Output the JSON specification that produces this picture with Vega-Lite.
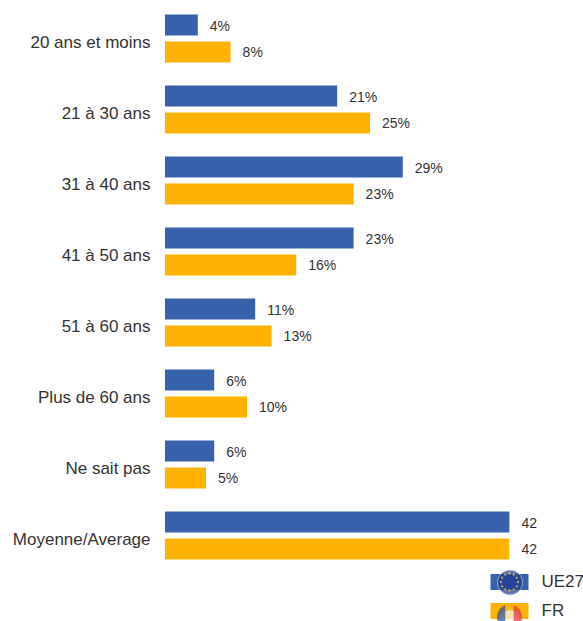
{
"$schema":"https://vega.github.io/schema/vega-lite/v6.json",
"autosize":{"type":"none"},
"padding":{"left":165,"top":3,"right":8,"bottom":50},
"width":410,"height":568,
"background":"white",
"config":{"view":{"stroke":null},"font":"Liberation Sans"},
"data":{"values":[
{"group":"20 ans et moins","series":"UE27","value":4,"label":"4%"},
{"group":"20 ans et moins","series":"FR","value":8,"label":"8%"},
{"group":"21 à 30 ans","series":"UE27","value":21,"label":"21%"},
{"group":"21 à 30 ans","series":"FR","value":25,"label":"25%"},
{"group":"31 à 40 ans","series":"UE27","value":29,"label":"29%"},
{"group":"31 à 40 ans","series":"FR","value":23,"label":"23%"},
{"group":"41 à 50 ans","series":"UE27","value":23,"label":"23%"},
{"group":"41 à 50 ans","series":"FR","value":16,"label":"16%"},
{"group":"51 à 60 ans","series":"UE27","value":11,"label":"11%"},
{"group":"51 à 60 ans","series":"FR","value":13,"label":"13%"},
{"group":"Plus de 60 ans","series":"UE27","value":6,"label":"6%"},
{"group":"Plus de 60 ans","series":"FR","value":10,"label":"10%"},
{"group":"Ne sait pas","series":"UE27","value":6,"label":"6%"},
{"group":"Ne sait pas","series":"FR","value":5,"label":"5%"},
{"group":"Moyenne/Average","series":"UE27","value":42,"label":"42"},
{"group":"Moyenne/Average","series":"FR","value":42,"label":"42"}
]},
"encoding":{
"x":{"field":"value","type":"quantitative","scale":{"domain":[0,50]},"axis":null},
"y":{"field":"group","type":"nominal","sort":null,"title":null,
"scale":{"paddingInner":0.324,"paddingOuter":0.162},
"axis":{"domain":false,"ticks":false,"labelFontSize":17,"labelColor":"#333333","labelPadding":15,"labelOffset":4,"labelFont":"Liberation Sans"}},
"yOffset":{"field":"series","type":"nominal","sort":["UE27","FR"],"scale":{"domain":["UE27","FR"],"paddingInner":0.222,"paddingOuter":0}}
},
"layer":[
{"mark":{"type":"bar"},
"encoding":{"color":{"field":"series","type":"nominal","scale":{"domain":["UE27","FR"],"range":["#3762AB","#FFB300"]},
"legend":{"title":null,"orient":"none","legendX":334.5,"legendY":569,"padding":0,"symbolType":"M-1.9,-0.8L1.9,-0.8L1.9,0.8L-1.9,0.8Z","symbolSize":400,"symbolStrokeWidth":0,"rowPadding":11,"labelOffset":22,"labelFontSize":17,"labelColor":"#333333"}}}},
{"mark":{"type":"text","align":"left","dx":12,"dy":1.5,"fontSize":14,"color":"#333333"},
"encoding":{"text":{"field":"label","type":"nominal"}}},
{"mark":{"type":"point","filled":true,"size":0},
"encoding":{"color":{"field":"series","type":"nominal","scale":{"domain":["UE27","FR"],"range":["#1F3A93","#F6F6F6"]},
"legend":{"title":null,"orient":"none","legendX":334.5,"legendY":569,"padding":0,"symbolType":"M0,-1.25A1.25,1.25,0,1,1,0,1.25A1.25,1.25,0,1,1,0,-1.25Z","symbolSize":400,"symbolStrokeColor":"#C8C8C8","symbolStrokeWidth":1,"rowPadding":11,"labelExpr":"''"}}}},
{"mark":{"type":"point","filled":true,"size":0},
"encoding":{"color":{"field":"series","type":"nominal","scale":{"domain":["UE27","FR"],"range":["#FFD21E","transparent"]},
"legend":{"title":null,"orient":"none","legendX":334.5,"legendY":569,"padding":0,"symbolType":"M0,-0.99L0.14,-0.85L0,-0.71L-0.14,-0.85ZM0.425,-0.876L0.565,-0.736L0.425,-0.596L0.285,-0.736ZM0.736,-0.565L0.876,-0.425L0.736,-0.285L0.596,-0.425ZM0.85,-0.14L0.99,0L0.85,0.14L0.71,0ZM0.736,0.285L0.876,0.425L0.736,0.565L0.596,0.425ZM0.425,0.596L0.565,0.736L0.425,0.876L0.285,0.736ZM0,0.71L0.14,0.85L0,0.99L-0.14,0.85ZM-0.425,0.596L-0.285,0.736L-0.425,0.876L-0.565,0.736ZM-0.736,0.285L-0.596,0.425L-0.736,0.565L-0.876,0.425ZM-0.85,-0.14L-0.71,0L-0.85,0.14L-0.99,0ZM-0.736,-0.565L-0.596,-0.425L-0.736,-0.285L-0.876,-0.425ZM-0.425,-0.876L-0.285,-0.736L-0.425,-0.596L-0.565,-0.736Z","symbolSize":400,"symbolStrokeWidth":0,"rowPadding":11,"labelExpr":"''"}}}},
{"mark":{"type":"point","filled":true,"size":0},
"encoding":{"color":{"field":"series","type":"nominal","scale":{"domain":["UE27","FR"],"range":["transparent","#2A4B9B"]},
"legend":{"title":null,"orient":"none","legendX":334.5,"legendY":569,"padding":0,"symbolType":"M-0.42,-1.177A1.25,1.25,0,0,0,-0.42,1.177Z","symbolSize":400,"symbolStrokeWidth":0,"rowPadding":11,"labelExpr":"''"}}}},
{"mark":{"type":"point","filled":true,"size":0},
"encoding":{"color":{"field":"series","type":"nominal","scale":{"domain":["UE27","FR"],"range":["transparent","#E0323C"]},
"legend":{"title":null,"orient":"none","legendX":334.5,"legendY":569,"padding":0,"symbolType":"M0.42,-1.177A1.25,1.25,0,0,1,0.42,1.177Z","symbolSize":400,"symbolStrokeWidth":0,"rowPadding":11,"labelExpr":"''"}}}}
],
"resolve":{"scale":{"color":"independent"},"legend":{"color":"independent"}}
}
